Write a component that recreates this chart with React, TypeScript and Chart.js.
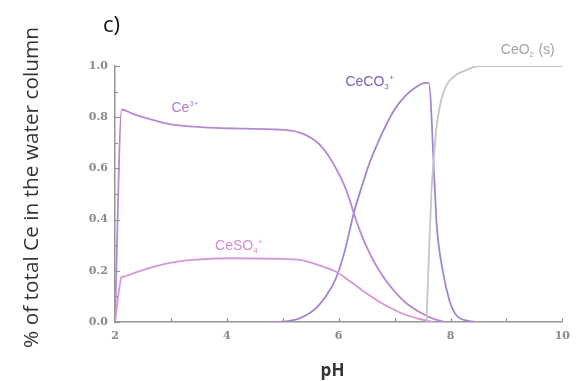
import React, { useEffect, useRef } from 'react';
import { Chart, registerables } from 'chart.js';

Chart.register(...registerables);

// ---- Data (pH vs fraction of total Ce) ----
const ce3PH = [2.0, 2.12, 2.3, 2.5, 2.75, 3.0, 3.4, 3.8, 4.3, 4.9, 5.3, 5.6, 5.8, 6.0, 6.1, 6.2, 6.27, 6.4, 6.55, 6.7, 6.85, 7.0, 7.2, 7.45, 7.7, 7.9];
const ce3Frac = [0, 0.83, 0.815, 0.8, 0.785, 0.772, 0.763, 0.758, 0.755, 0.752, 0.74, 0.705, 0.655, 0.58, 0.535, 0.475, 0.425, 0.345, 0.27, 0.21, 0.16, 0.12, 0.075, 0.038, 0.012, 0];

const ceco3PH = [4.8, 5.0, 5.3, 5.6, 5.8, 5.95, 6.1, 6.27, 6.4, 6.55, 6.7, 6.85, 7.0, 7.2, 7.4, 7.55, 7.61, 7.72, 7.75, 7.87, 7.98, 8.1, 8.3, 8.45];
const ceco3Frac = [0, 0.001, 0.014, 0.055, 0.11, 0.17, 0.27, 0.425, 0.52, 0.62, 0.70, 0.77, 0.83, 0.885, 0.92, 0.934, 0.934, 0.516, 0.387, 0.19, 0.085, 0.027, 0.005, 0];

const ceso4PH = [2.0, 2.12, 2.14, 2.4, 2.7, 3.0, 3.4, 4.0, 4.9, 5.33, 5.63, 5.96, 6.21, 6.51, 6.81, 7.1, 7.4, 7.7];
const ceso4Frac = [0, 0.176, 0.1774, 0.196, 0.216, 0.232, 0.243, 0.249, 0.247, 0.242, 0.223, 0.195, 0.158, 0.11, 0.068, 0.036, 0.014, 0];

const ceo2PH = [7.57, 7.66, 7.7, 7.75, 7.87, 8.05, 8.28, 8.5, 10];
const ceo2Frac = [0, 0.516, 0.633, 0.762, 0.895, 0.957, 0.984, 1.0, 1.0];

// species labels: text segments + anchor in data coords
type Seg = { t: string; k: 'n' | 'sub' | 'sup' };
const speciesLabels: { segs: Seg[]; pH: number; frac: number; color: string }[] = [
  { segs: [{ t: 'Ce', k: 'n' }, { t: '3+', k: 'sup' }], pH: 3.01, frac: 0.82, color: '#a67fd3' },
  { segs: [{ t: 'CeCO', k: 'n' }, { t: '3', k: 'sub' }, { t: '+', k: 'sup' }], pH: 6.12, frac: 0.92, color: '#7d5fb5' },
  { segs: [{ t: 'CeSO', k: 'n' }, { t: '4', k: 'sub' }, { t: '+', k: 'sup' }], pH: 3.79, frac: 0.282, color: '#d08ed2' },
  { segs: [{ t: 'CeO', k: 'n' }, { t: '2', k: 'sub' }, { t: ' (s)', k: 'n' }], pH: 8.9, frac: 1.045, color: '#a3a3a3' },
];

const panelLabel = 'c)';
const xTitle = 'pH';
const yTitle = '% of total Ce in the water column';

const toPts = (xs: number[], ys: number[]) => xs.map((x, i) => ({ x, y: ys[i] }));

const overlayPlugin = {
  id: 'overlay',
  afterDraw(chart: any) {
    const { ctx, chartArea } = chart;
    const xs = chart.scales.x;
    const ys = chart.scales.y;
    ctx.save();
    // inward tick marks
    ctx.strokeStyle = '#959595';
    ctx.lineWidth = 1.2;
    for (let i = 0; i <= 10; i++) {
      const v = i / 10;
      const py = Math.round(ys.getPixelForValue(v)) + 0.5;
      const len = i % 2 === 0 ? 5 : 3;
      ctx.beginPath();
      ctx.moveTo(chartArea.left, py);
      ctx.lineTo(chartArea.left + len, py);
      ctx.stroke();
    }
    for (let v = 3; v <= 10; v++) {
      const px = Math.round(xs.getPixelForValue(v)) + 0.5;
      ctx.beginPath();
      ctx.moveTo(px, chartArea.bottom);
      ctx.lineTo(px, chartArea.bottom - 4);
      ctx.stroke();
    }

    // species labels
    for (const lab of speciesLabels) {
      let x = xs.getPixelForValue(lab.pH);
      const base = ys.getPixelForValue(lab.frac);
      ctx.fillStyle = lab.color;
      ctx.textAlign = 'left';
      ctx.textBaseline = 'alphabetic';
      for (const s of lab.segs) {
        let dy = 0;
        if (s.k === 'n') ctx.font = '14px "Liberation Sans", Arial, sans-serif';
        else ctx.font = '8px "Liberation Sans", Arial, sans-serif';
        if (s.k === 'sup') dy = -6;
        if (s.k === 'sub') dy = 3;
        ctx.fillText(s.t, x, base + dy);
        x += ctx.measureText(s.t).width + (s.k === 'n' ? 0 : 0.5);
      }
    }

    // panel label
    ctx.fillStyle = '#111';
    ctx.font = '22px "Open Sans", sans-serif';
    ctx.textAlign = 'left';
    ctx.textBaseline = 'alphabetic';
    ctx.fillText(panelLabel, 103, 32);

    // x title
    ctx.fillStyle = '#333';
    ctx.font = 'bold 17px "Open Sans", sans-serif';
    ctx.textAlign = 'center';
    ctx.fillText(xTitle, 332.5, 376);

    // y title
    ctx.font = '16px "Open Sans", sans-serif';
    const w = ctx.measureText(yTitle).width;
    const size = (16 * 321) / w;
    ctx.font = `${size.toFixed(2)}px "Open Sans", sans-serif`;
    ctx.translate(38, 187.5);
    ctx.rotate(-Math.PI / 2);
    ctx.textAlign = 'center';
    ctx.textBaseline = 'alphabetic';
    ctx.fillStyle = '#333';
    ctx.fillText(yTitle, 0, 0);
    ctx.restore();
  },
};

export default function App() {
  const ref = useRef<HTMLCanvasElement | null>(null);

  useEffect(() => {
    document.body.style.margin = '0';
    const canvas = ref.current;
    if (!canvas) return;
    const lineCommon = {
      pointRadius: 0,
      borderWidth: 1.8,
      fill: false,
      cubicInterpolationMode: 'monotone' as const,
    };
    const tickFont = { family: '"DejaVu Serif", serif', size: 11, weight: 'bold' as const };
    const chart = new Chart(canvas, {
      type: 'line',
      data: {
        datasets: [
          { label: 'CeO2 (s)', data: toPts(ceo2PH, ceo2Frac), borderColor: '#c6c6c6', ...lineCommon },
          { label: 'CeSO4+', data: toPts(ceso4PH, ceso4Frac), borderColor: '#d697d8', ...lineCommon },
          { label: 'Ce3+', data: toPts(ce3PH, ce3Frac), borderColor: '#b48ad8', ...lineCommon },
          { label: 'CeCO3+', data: toPts(ceco3PH, ceco3Frac), borderColor: '#a285cf', ...lineCommon },
        ],
      },
      options: {
        animation: false,
        responsive: false,
        devicePixelRatio: 1,
        layout: { padding: { top: 66, right: 11, bottom: 0, left: 0 } },
        plugins: { legend: { display: false }, tooltip: { enabled: false }, title: { display: false } },
        scales: {
          x: {
            type: 'linear',
            min: 2,
            max: 10,
            grid: { display: false, drawTicks: false },
            border: { display: true, color: '#959595', width: 1.5 },
            ticks: {
              stepSize: 2,
              padding: 8,
              color: '#8a8a8a',
              font: tickFont,
              callback: (v: any) => String(v),
              maxRotation: 0,
            },
            afterFit: (s: any) => { s.height = 59; },
          },
          y: {
            type: 'linear',
            min: 0,
            max: 1,
            grid: { display: false, drawTicks: false },
            border: { display: true, color: '#959595', width: 1.5 },
            ticks: {
              stepSize: 0.2,
              padding: 7,
              color: '#8a8a8a',
              font: tickFont,
              callback: (v: any) => Number(v).toFixed(1),
            },
            afterFit: (s: any) => { s.width = 115; },
          },
        },
      },
      plugins: [overlayPlugin],
    });
    return () => chart.destroy();
  }, []);

  return (
    <div style={{ width: 578, height: 381, position: 'relative', background: '#fff' }}>
      <canvas ref={ref} width={578} height={381} />
    </div>
  );
}
